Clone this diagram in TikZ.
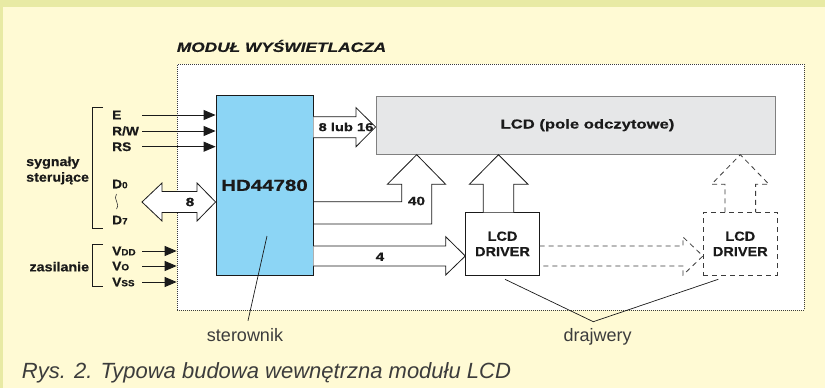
\documentclass[tikz,border=0pt]{standalone}
\usepackage{fontspec}
\setmainfont{Liberation Sans}
\newfontfamily\wb[FakeStretch=1.28,FakeBold=0.6]{Liberation Sans}
\newfontfamily\nb[FakeStretch=1.1,FakeBold=0.5]{Liberation Sans}
\newfontfamily\lt{Liberation Sans}
\usetikzlibrary{arrows.meta,calc}
\definecolor{bgy}{RGB}{255,250,212}
\definecolor{band}{RGB}{232,234,164}
\definecolor{hdblue}{RGB}{140,213,245}
\definecolor{lcdgray}{RGB}{230,231,232}
\definecolor{ink}{RGB}{26,26,26}
\definecolor{soft}{RGB}{60,60,60}
\tikzset{
  sig/.style={line width=0.9pt,draw=ink,-{Triangle[length=12pt,width=10pt]}},
  lab/.style={font=\nb\bfseries\fontsize{12.5}{13}\selectfont,text=ink,anchor=west,inner sep=0pt},
  wlab/.style={font=\wb\bfseries\fontsize{12}{13}\selectfont,text=ink,inner sep=0pt},
  fat/.style={fill=white,draw=ink,line width=0.8pt,line join=miter},
  fatdash/.style={fill=white,draw=soft,line width=0.8pt,dash pattern=on 5pt off 4pt},
  box/.style={draw=ink,line width=0.8pt,inner sep=0pt},
  note/.style={font=\lt\fontsize{18}{18}\selectfont,text=soft,inner sep=0pt},
}
\begin{document}
\begin{tikzpicture}[x=1pt,y=-1pt]
\useasboundingbox (0,0) rectangle (825,388);
% background
\fill[bgy] (0,0) rectangle (825,388);
\fill[band] (0,0) rectangle (825,7);
\fill[band] (0,0) rectangle (3,388);
% module frame
\node[draw=soft,fill=white,line width=0.7pt,dash pattern=on 0.8pt off 1.2pt,minimum width=627pt,minimum height=245.7pt,inner sep=0pt] (mod) at (490.5,187.15) {};
\node[font=\wb\bfseries\itshape\fontsize{13.5}{14}\selectfont,text=ink,anchor=west,inner sep=0pt] (title) at (176.7,46) {MODUŁ WYŚWIETLACZA};
% main blocks
\node[box,fill=hdblue,minimum width=97pt,minimum height=179.3pt,font=\wb\bfseries\fontsize{16}{16}\selectfont,text=ink] (hd) at (264.5,185.35) {HD44780};
\node[draw=gray,line width=0.8pt,fill=lcdgray,inner sep=0pt,minimum width=399pt,minimum height=58.3pt,font=\wb\bfseries\fontsize{13}{13}\selectfont,text=ink] (lcd) at (575.5,125.15) {\hspace*{24pt}LCD (pole odczytowe)};
\node[box,fill=white,minimum width=73.6pt,minimum height=62.3pt,align=center,font=\nb\bfseries\fontsize{13.2}{15.3}\selectfont,text=ink] (drv1) at (502.5,243.85) {LCD\\DRIVER};
\node[draw=soft,fill=white,line width=0.8pt,dash pattern=on 5pt off 4pt,inner sep=0pt,minimum width=74pt,minimum height=62.3pt,align=center,font=\nb\bfseries\fontsize{13.2}{15.3}\selectfont,text=ink] (drv2) at (740.3,243.85) {LCD\\DRIVER};
% control signal labels and arrows
\node[lab] (lE) at (112,115) {E};
\node[lab] (lRW) at (112,131) {R/W};
\node[lab] (lRS) at (112,146.7) {RS};
\node[lab] (lD0) at (112,184) {D{\fontsize{9}{9}\selectfont 0}};
\node[lab] (lD7) at (112,220) {D{\fontsize{9}{9}\selectfont 7}};
\coordinate (sE) at (142,115);
\coordinate (sRW) at (142,131);
\coordinate (sRS) at (142,146.7);
\draw[sig] (sE) -- (sE -| hd.west);
\draw[sig] (sRW) -- (sRW -| hd.west);
\draw[sig] (sRS) -- (sRS -| hd.west);
\draw[soft,line width=0.6pt] (116.5,194) .. controls (112.5,199) and (120.5,203) .. (116.5,209);
% power labels and arrows
\node[lab] (lVDD) at (112,251) {V{\fontsize{9}{9}\selectfont DD}};
\node[lab] (lVO) at (112,266) {V{\fontsize{9}{9}\selectfont O}};
\node[lab] (lVSS) at (112,282) {V{\fontsize{9}{9}\selectfont SS}};
\coordinate (sVDD) at (142,251);
\coordinate (sVO) at (142,266);
\coordinate (sVSS) at (142,282);
\draw[sig] (sVDD) -- (sVDD -| mod.west);
\draw[sig] (sVO) -- (sVO -| mod.west);
\draw[sig] (sVSS) -- (sVSS -| mod.west);
% brackets
\draw[ink,line width=0.9pt] (103,107.3) -- (92,107.3) -- (92,228.3) -- (103,228.3);
\draw[ink,line width=0.9pt] (103,244.3) -- (92,244.3) -- (92,286.7) -- (103,286.7);
\node[font=\nb\bfseries\fontsize{13}{15.6}\selectfont,text=ink,align=left,anchor=west,inner sep=0pt] (sygn) at (26,170.5) {sygnały\\sterujące};
\node[font=\nb\bfseries\fontsize{13}{15}\selectfont,text=ink,anchor=west,inner sep=0pt] (zas) at (29.3,266.7) {zasilanie};
% data bus double arrow
\coordinate (dL) at (142,202);
\path[fat] (dL) -- (162,183) -- (162,191.5) -- (197,191.5) -- (197,183) -- (dL -| hd.west) -- (197,221) -- (197,212.5) -- (162,212.5) -- (162,221) -- cycle;
\node[wlab] (l8) at (190,202) {8};
% 8 lub 16 arrow
\path[fill=white] (hd.east |- 0,116.7) -- (356,116.7) -- (356,107.7) -- (lcd.west |- 0,127) -- (356,146.7) -- (356,137.7) -- (hd.east |- 0,137.7) -- cycle;
\draw[fat,fill=none] (hd.east |- 0,116.7) -- (356,116.7) -- (356,107.7) -- (lcd.west |- 0,127) -- (356,146.7) -- (356,137.7) -- (hd.east |- 0,137.7);
\node[wlab,font=\wb\bfseries\fontsize{11.5}{12}\selectfont] (l816) at (346,127) {8 lub 16};
% 40 arrow
\draw[fat,fill=none] (hd.east |- 0,201.7) -- (401.7,201.7) -- (401.7,184.3) -- (387.3,184.3) -- (416.7,0 |- lcd.south) -- (445.7,184.3) -- (431.7,184.3) -- (431.7,224) -- (hd.east |- 0,224);
\node[wlab] (l40) at (416.5,201) {40};
% 4 arrow
\path[fill=white] (hd.east |- 0,246) -- (445.7,246) -- (445.7,236.7) -- (drv1.west |- 0,256) -- (445.7,275) -- (445.7,266) -- (hd.east |- 0,266) -- cycle;
\draw[fat,fill=none] (hd.east |- 0,246) -- (445.7,246) -- (445.7,236.7) -- (drv1.west |- 0,256) -- (445.7,275) -- (445.7,266) -- (hd.east |- 0,266);
\node[wlab] (l4) at (380,256.7) {4};
% driver 1 up arrow
\draw[fat] (483.3,0 |- drv1.north) -- (483.3,184.3) -- (469.3,184.3) -- (498.5,0 |- lcd.south) -- (528,184.3) -- (513.7,184.3) -- (513.7,0 |- drv1.north);
% driver 2 dashed up arrow
\draw[fatdash,fill=none] (725,0 |- drv2.north) -- (725,184.3) -- (711.5,184.3) -- (740.3,0 |- lcd.south) -- (769,184.3) -- (755.6,184.3) -- (755.6,0 |- drv2.north);
% dashed horizontal arrow
\draw[fatdash,fill=none] (drv1.east |- 0,246) -- (683,246) -- (683,237) -- (drv2.west |- 0,256) -- (683,275) -- (683,266) -- (drv1.east |- 0,266);
% callouts
\coordinate (st1) at (267,236);
\node[note] (ster) at (245,335) {sterownik};
\draw[ink,line width=0.7pt] (st1) -- (248,320.7);
\coordinate (dr1) at (505,279.3);
\coordinate (dr2) at (718.3,279.3);
\node[note] (drw) at (597.7,336.7) {drajwery};
\draw[ink,line width=0.7pt] (dr1) -- (593.3,321.7) -- (dr2);
% caption
\node[font=\lt\itshape\fontsize{22}{22}\selectfont,text=soft,anchor=west,inner sep=0pt] (cap) at (21.7,373) {Rys. 2. Typowa budowa wewnętrzna modułu LCD};
\end{tikzpicture}
\end{document}
